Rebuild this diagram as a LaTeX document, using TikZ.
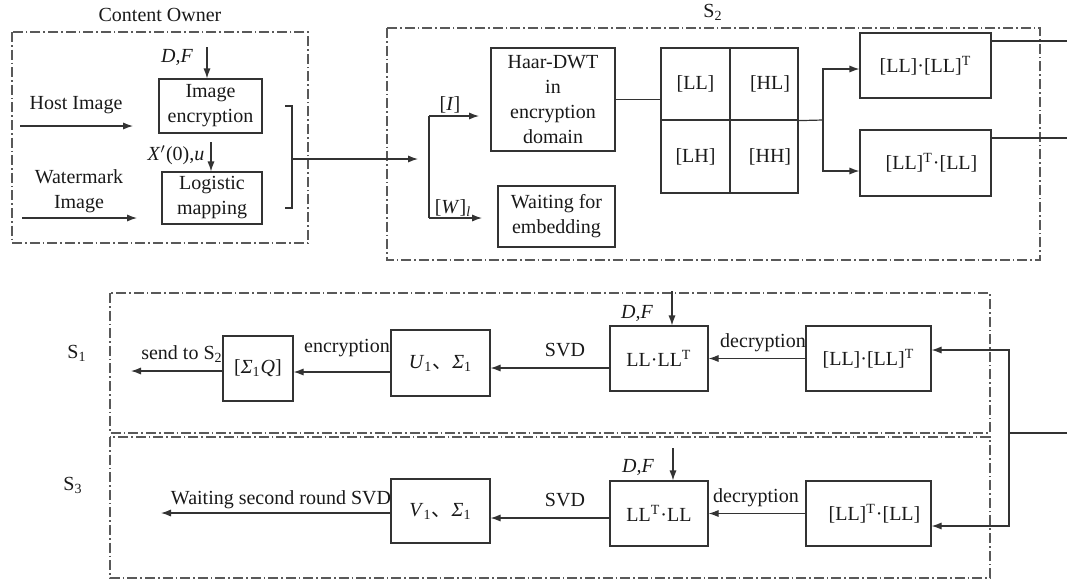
\documentclass[tikz,border=0pt]{standalone}
\usepackage{fontspec}
\setmainfont{Liberation Serif}
\newfontfamily\cjkfont{Noto Sans CJK SC}
\usepackage{tikz}
\usetikzlibrary{arrows.meta}
\tikzset{>={Latex[length=5pt,width=3.6pt]}}
\tikzstyle{blk} = [rectangle, draw=black!80, line width=0.6pt, inner sep=1pt, align=center]
\tikzstyle{frame} = [draw=black!65, line width=0.6pt, dash pattern=on 5pt off 1.5pt on 0.8pt off 1.5pt]
\tikzstyle{wire} = [-, draw=black!80, line width=0.6pt]
\tikzstyle{arr} = [->, draw=black!80, line width=0.6pt]
\newcommand{\cjkcomma}{{\cjkfont 、}}

\begin{document}
\begin{tikzpicture}[x=0.5pt, y=-0.5pt, every node/.style={font=\fontsize{10}{12.5}\selectfont, text=black!90}]
\useasboundingbox (0,0) rectangle (1067,580);

% frames
\draw [frame] (12,32) rectangle (308,243);
\draw [frame] (387,28) rectangle (1040,260);
\draw [frame] (110,293) rectangle (990,433);
\draw [frame] (110,437) rectangle (990,578);
\node (owner) at (160,15) {Content Owner};
\node (sTwo) at (713,12) {S\textsubscript{2}};
\node (sOne) at (77,353) {S\textsubscript{1}};
\node (sThree) at (73,485) {S\textsubscript{3}};

% content owner
\node [blk, minimum width=51.5pt, minimum height=27pt] (enc) at (210.5,106) {Image\\encryption};
\node [blk, minimum width=50pt, minimum height=26pt] (logi) at (212,198) {Logistic\\mapping};
\node (df) at (177,57) {\textit{D,F}};
\node (xu) at (176,155) {\textit{X}$'$(0),\textit{u}};
\node (host) at (76,105) {Host Image};
\node [align=center] (wm) at (79,191) {Watermark\\Image};
\coordinate (dfIn) at (207,47);
\coordinate (xuIn) at (211,142);
\coordinate (hostA) at (20,126);
\coordinate (hostB) at (133,126);
\coordinate (wmA) at (22,218);
\coordinate (wmB) at (137,218);
\draw [arr] (dfIn) -- (dfIn |- enc.north);
\draw [arr] (xuIn) -- (xuIn |- logi.north);
\draw [arr] (hostA) -- (hostB);
\draw [arr] (wmA) -- (wmB);
\draw [wire] (285,106) -- (292,106) -- (292,208) -- (285,208);
\coordinate (brk) at (292,159);
\coordinate (inS) at (418,159);
\draw [arr] (brk) -- (inS);

% S2
\coordinate (splT) at (429,116);
\coordinate (splB) at (429,218);
\coordinate (tipT) at (479,116);
\coordinate (tipB) at (482,218);
\draw [wire] (splT) -- (splB);
\draw [arr] (splT) -- (tipT);
\draw [arr] (splB) -- (tipB);
\node (lblI) at (450,105) {[\textit{I}]};
\node (lblW) at (453,208) {[\textit{W}]\textsubscript{\textit{l}}};
\node [blk, minimum width=62pt, minimum height=51.5pt] (haar) at (553,99.5) {Haar-DWT\\in\\encryption\\domain};
\node [blk, minimum width=58.5pt, minimum height=30.5pt] (wait) at (556.5,216.5) {Waiting for\\embedding};
\node [blk, minimum width=34.5pt, minimum height=36pt] (LL) at (695.5,84) {[LL]};
\node [blk, minimum width=34pt, minimum height=36pt] (HL) at (764,84) {\hspace{6pt}[HL]};
\node [blk, minimum width=34.5pt, minimum height=36.5pt] (LH) at (695.5,156.5) {[LH]};
\node [blk, minimum width=34pt, minimum height=36.5pt] (HH) at (764,156.5) {\hspace{6pt}[HH]};
\draw [wire] (haar.east) -- (haar.east -| LL.west);
\node [blk, minimum width=65.5pt, minimum height=32.5pt] (prodA) at (925.5,65.5) {[LL]·[LL]\textsuperscript{T}};
\node [blk, minimum width=65.5pt, minimum height=33pt] (prodB) at (925.5,163) {\hspace{6pt}[LL]\textsuperscript{T}·[LL]};
\coordinate (fork) at (823,120);
\draw [wire] (HL.south east) -- (fork);
\draw [arr] (fork) |- ([yshift=-1.75pt]prodA.west);
\draw [arr] (fork) |- ([yshift=-4pt]prodB.west);
\coordinate (outA) at (1067,41);
\coordinate (outB) at (1067,138);
\draw [wire] ([yshift=12.25pt]prodA.east) -- (outA);
\draw [wire] ([yshift=12.5pt]prodB.east) -- (outB);

% S1 and S3
\node [blk, minimum width=62.5pt, minimum height=32.5pt] (encA) at (868.5,358.5) {[LL]·[LL]\textsuperscript{T}};
\node [blk, minimum width=49pt, minimum height=32.5pt] (decA) at (659,358.5) {LL·LL\textsuperscript{T}};
\node [blk, minimum width=49.5pt, minimum height=33pt] (svdA) at (440.5,363) {\textit{U}\textsubscript{1}\cjkcomma\textit{Σ}\textsubscript{1}};
\node [blk, minimum width=35pt, minimum height=32.5pt] (sigQ) at (258,368.5) {[\textit{Σ}\textsubscript{1}\textit{Q}]};
\node [blk, minimum width=62.5pt, minimum height=32.5pt] (encB) at (868.5,513.5) {\hspace{6pt}[LL]\textsuperscript{T}·[LL]};
\node [blk, minimum width=49pt, minimum height=32.5pt] (decB) at (659,513.5) {LL\textsuperscript{T}·LL};
\node [blk, minimum width=49.5pt, minimum height=32pt] (svdB) at (440.5,511) {\textit{V}\textsubscript{1}\cjkcomma\textit{Σ}\textsubscript{1}};

\coordinate (busIn) at (1067,433);
\coordinate (bus) at (1009,433);
\draw [wire] (busIn) -- (bus);
\draw [arr] (bus) |- ([yshift=4.25pt]encA.east);
\draw [arr] (bus) |- ([yshift=-6.25pt]encB.east);

\draw [arr] (encA.west) -- (decA.east);
\draw [arr] ([yshift=-4.75pt]decA.west) -- ([yshift=-2.5pt]svdA.east);
\draw [arr] ([yshift=-4.5pt]svdA.west) -- ([yshift=-1.75pt]sigQ.east);
\coordinate (sendOut) at (131,371);
\draw [arr] ([yshift=-1.25pt]sigQ.west) -- (sendOut);
\draw [arr] (encB.west) -- (decB.east);
\draw [arr] ([yshift=-2.25pt]decB.west) -- ([yshift=-3.5pt]svdB.east);
\coordinate (waitOut) at (161,513);
\draw [arr] ([yshift=-1pt]svdB.west) -- (waitOut);

\coordinate (dfA) at (672,291);
\coordinate (dfB) at (673,448);
\draw [arr] (dfA) -- (dfA |- decA.north);
\draw [arr] (dfB) -- (dfB |- decB.north);
\node (dfLblA) at (637,313) {\textit{D,F}};
\node (dfLblB) at (638,467) {\textit{D,F}};
\node (decLblA) at (763,343) {decryption};
\node (decLblB) at (756,498) {decryption};
\node (svdLblA) at (565,350) {SVD};
\node (svdLblB) at (565,500) {SVD};
\node (encLbl) at (347,348) {encryption};
\node (sendLbl) at (182,354) {send to S\textsubscript{2}};
\node (waitLbl) at (281,500) {Waiting second round SVD};
\end{tikzpicture}
\end{document}
